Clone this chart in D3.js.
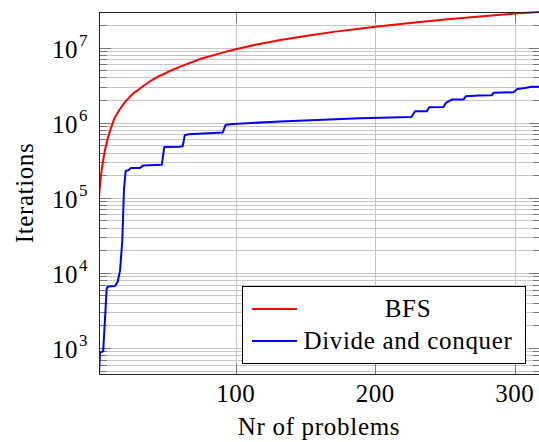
<!DOCTYPE html>
<html lang="en">
<head>
<meta charset="utf-8">
<title>Iterations</title>
<script src="https://d3js.org/d3.v7.min.js"></script>
<style>
  body { margin: 0; background: #fff; }
  svg text { font-family: 'Liberation Serif', 'Times New Roman', Times, serif; fill: #000; }
</style>
</head>
<body>
<div id="vis"></div>
<script>
// BFS curve
const bfsN    = [2, 3, 4, 6, 8, 10, 13, 17, 21, 25, 28, 30, 35, 40, 45, 47, 55, 63, 75, 90,
                 100, 115, 132, 150, 170, 190, 200, 225, 250, 275, 300, 318];
const bfsIter = [1.0e5, 1.7e5, 2.4e5, 4.1e5, 5.9e5, 7.9e5, 1.14e6, 1.52e6, 1.92e6, 2.3e6,
                 2.58e6, 2.72e6, 3.2e6, 3.7e6, 4.18e6, 4.32e6, 5.1e6, 5.85e6, 7.1e6, 8.5e6,
                 9.5e6, 1.1e7, 1.26e7, 1.43e7, 1.62e7, 1.8e7, 1.9e7, 2.12e7, 2.36e7, 2.6e7,
                 2.84e7, 2.98e7];

// divide and conquer, stepwise
const dcN    = [2, 2.7, 3.5, 5, 7.5, 8.6, 13.5, 15.4, 17.1, 18.7, 19.9, 21.1, 23.1, 24.8, 31.4,
                33.8, 47, 48.8, 60, 62, 63.5, 66, 90.7, 92.8, 98.3, 131.8, 189, 226, 228.5,
                237, 238.6, 248.9, 250.6, 254.9, 263.2, 264.9, 274.4, 283.5, 285, 299, 301.9,
                307.4, 312.2, 318];
const dcIter = [450, 870, 880, 900, 6.2e3, 6.6e3, 6.7e3, 7.6e3, 1.08e4, 2.7e4, 1.3e5, 2.27e5,
                2.32e5, 2.5e5, 2.5e5, 2.7e5, 2.75e5, 4.75e5, 4.8e5, 4.85e5, 6.8e5, 7.0e5, 7.4e5,
                9.4e5, 9.6e5, 1.04e6, 1.15e6, 1.19e6, 1.42e6, 1.42e6, 1.6e6, 1.62e6, 1.83e6,
                2.03e6, 2.03e6, 2.25e6, 2.3e6, 2.32e6, 2.51e6, 2.54e6, 2.81e6, 2.9e6, 3.02e6,
                3.02e6];

const xTicks = [100, 200, 300];
const yExps  = [3, 4, 5, 6, 7];
const seriesNames  = ["BFS", "Divide and conquer"];
const seriesColors = ["#ff0000", "#0000ff"];

const width = 539, height = 442;
const pLeft = 99, pRight = 541, pTop = 12, pBottom = 374;

const svg = d3.select("#vis")
    .append("svg")
    .attr("width", width)
    .attr("height", height);

const x = d3.scaleLinear().domain([2, 318.8]).range([pLeft, pRight]);
const y = d3.scaleLog().domain([450, 2.98e7]).range([pBottom, pTop]);

const isMajor = v => Math.abs(Math.log10(v) - Math.round(Math.log10(v))) < 1e-9;
const yAll = y.ticks();

// grid
const grid = svg.append("g").attr("stroke", "#c6c6c6").attr("stroke-width", 1);
grid.selectAll("line.h")
    .data(yAll)
    .enter()
    .append("line")
    .attr("x1", pLeft).attr("x2", pRight)
    .attr("y1", d => Math.round(y(d)) + 0.5)
    .attr("y2", d => Math.round(y(d)) + 0.5);
grid.selectAll("line.v")
    .data(xTicks)
    .enter()
    .append("line")
    .attr("y1", pTop).attr("y2", pBottom)
    .attr("x1", d => Math.round(x(d)) + 0.5)
    .attr("x2", d => Math.round(x(d)) + 0.5);

// tick marks (inside, on all four sides)
const ticks = svg.append("g").attr("stroke", "#777").attr("stroke-width", 1);
yAll.forEach(v => {
    const len = isMajor(v) ? 12 : 8;
    const yy = Math.round(y(v)) + 0.5;
    ticks.append("line").attr("x1", pLeft).attr("x2", pLeft + len).attr("y1", yy).attr("y2", yy);
    ticks.append("line").attr("x1", pRight).attr("x2", pRight - len).attr("y1", yy).attr("y2", yy);
});
xTicks.forEach(v => {
    const xx = Math.round(x(v)) + 0.5;
    ticks.append("line").attr("x1", xx).attr("x2", xx).attr("y1", pTop).attr("y2", pTop + 11);
    ticks.append("line").attr("x1", xx).attr("x2", xx).attr("y1", pBottom).attr("y2", pBottom - 11);
});

// lines
const line = d3.line().x(d => x(d[0])).y(d => y(d[1]));
const series = [d3.zip(bfsN, bfsIter), d3.zip(dcN, dcIter)];

svg.append("defs").append("clipPath").attr("id", "clip")
    .append("rect").attr("x", pLeft).attr("y", pTop - 1)
    .attr("width", pRight - pLeft).attr("height", pBottom - pTop + 2);

svg.append("g").attr("clip-path", "url(#clip)")
    .selectAll("path")
    .data(series)
    .enter()
    .append("path")
    .attr("d", line)
    .attr("fill", "none")
    .attr("stroke", (d, i) => seriesColors[i])
    .attr("stroke-width", 2)
    .attr("stroke-linejoin", "round");

// frame
svg.append("rect")
    .attr("x", pLeft + 0.5).attr("y", pTop + 0.5)
    .attr("width", pRight - pLeft).attr("height", pBottom - pTop)
    .attr("fill", "none")
    .attr("stroke", "#222")
    .attr("stroke-width", 1);

// y tick labels 10^k
const yl = svg.append("g");
yExps.forEach(k => {
    const t = yl.append("text")
        .attr("x", 78)
        .attr("y", y(Math.pow(10, k)) + 10)
        .attr("font-size", 25);
    const base = t.append("tspan").attr("letter-spacing", 0.5).text("10");
    t.append("tspan")
        .attr("font-size", 17)
        .attr("dy", -12)
        .attr("dx", 1)
        .text(k);
    // shift so "10" ends at x=78
    t.attr("x", 78 - base.node().getComputedTextLength());
});

// x tick labels
svg.append("g")
    .selectAll("text")
    .data(xTicks)
    .enter()
    .append("text")
    .attr("x", d => x(d))
    .attr("y", 402)
    .attr("text-anchor", "middle")
    .attr("font-size", 25)
    .attr("letter-spacing", 0.5)
    .text(d => d);

// axis titles
svg.append("text")
    .attr("x", (pLeft + 539) / 2)
    .attr("y", 435)
    .attr("text-anchor", "middle")
    .attr("font-size", 25)
    .attr("letter-spacing", 0.7)
    .text("Nr of problems");

svg.append("text")
    .attr("transform", `translate(33, ${(pTop + pBottom) / 2}) rotate(-90)`)
    .attr("text-anchor", "middle")
    .attr("font-size", 25)
    .attr("letter-spacing", 0.6)
    .text("Iterations");

// legend
const lg = svg.append("g");
lg.append("rect")
    .attr("x", 242.5).attr("y", 286.5)
    .attr("width", 283).attr("height", 77)
    .attr("fill", "#fff")
    .attr("stroke", "#000")
    .attr("stroke-width", 1);
seriesNames.forEach((name, i) => {
    const yy = 309 + i * 32;
    lg.append("line")
        .attr("x1", 252).attr("x2", 297)
        .attr("y1", yy).attr("y2", yy)
        .attr("stroke", seriesColors[i])
        .attr("stroke-width", 2);
    lg.append("text")
        .attr("x", 408)
        .attr("y", yy + 8)
        .attr("text-anchor", "middle")
        .attr("font-size", 25)
        .attr("letter-spacing", 0.65)
        .text(name);
});
</script>
</body>
</html>
